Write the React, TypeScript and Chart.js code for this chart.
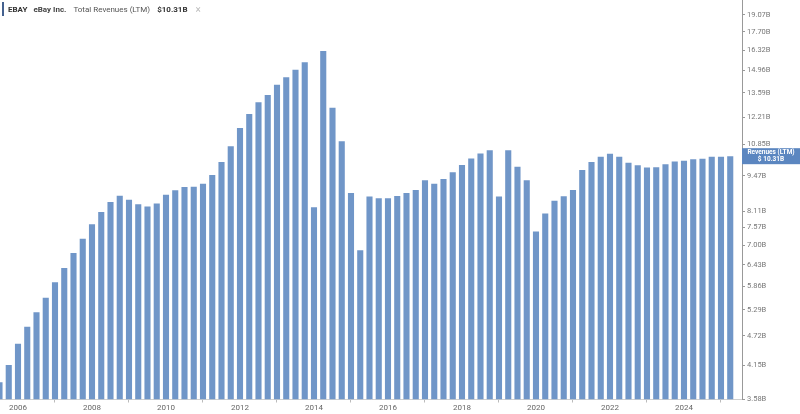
import React, { useEffect, useRef } from "react";
import { Chart, registerables } from "chart.js";

Chart.register(...registerables);

// Quarter-end positions (decimal years), Q2 2005 .. Q1 2025
const startYear = 2005.5;
const quarterCount = 80;
const quarterX: number[] = Array.from({ length: quarterCount }, (_, i) => startYear + i * 0.25);

// Total Revenues (LTM), billions USD
const revenues: number[] = [
  3.86, 4.16, 4.56, 4.91, 5.23, 5.57, 5.96, 6.34, 6.77, 7.2,
  7.67, 8.09, 8.45, 8.68, 8.53, 8.37, 8.28, 8.39, 8.72, 8.89,
  9.02, 9.03, 9.15, 9.5, 10.05, 10.77, 11.66, 12.39, 13.03, 13.45,
  14.07, 14.53, 15.02, 15.51, 8.26, 16.29, 12.73, 11.0, 8.79, 6.85,
  8.65, 8.59, 8.59, 8.67, 8.79, 8.9, 9.29, 9.15, 9.34, 9.61,
  9.92, 10.21, 10.43, 10.58, 8.65, 10.58, 9.85, 9.29, 7.43, 8.04,
  8.49, 8.66, 8.9, 9.71, 10.05, 10.29, 10.42, 10.28, 10.02, 9.91,
  9.81, 9.83, 9.95, 10.07, 10.11, 10.17, 10.2, 10.28, 10.29, 10.31,
];

const yTicks: number[] = [3.58, 4.15, 4.72, 5.29, 5.86, 6.43, 7.0, 7.57, 8.11, 9.47, 10.85, 12.21, 13.59, 14.96, 16.32, 17.7, 19.07];
const xTicks: number[] = [2006, 2008, 2010, 2012, 2014, 2016, 2018, 2020, 2022, 2024];

const seriesLabel = "Revenues (LTM)";
const lastValueText = "$ 10.31B";

const FONT = "Roboto, 'Noto Sans', sans-serif";

const lastLabelPlugin = {
  id: "lastLabel",
  afterDraw(chart: any) {
    const { ctx, scales, chartArea } = chart;
    const y = scales.y.getPixelForValue(revenues[revenues.length - 1]);
    const x0 = chartArea.right;
    const w = chart.width - x0;
    const h = 16;
    ctx.save();
    ctx.fillStyle = "#5b86c0";
    ctx.fillRect(x0, y - h / 2, w, h);
    ctx.fillStyle = "#ffffff";
    ctx.textAlign = "center";
    ctx.textBaseline = "middle";
    ctx.font = `bold 6.5px ${FONT}`;
    ctx.fillText(seriesLabel, x0 + w / 2, y - 3.5);
    ctx.fillText(lastValueText, x0 + w / 2, y + 3.5);
    ctx.restore();
  },
};

export default function App() {
  const ref = useRef<HTMLCanvasElement | null>(null);

  useEffect(() => {
    if (!ref.current) return;
    const chart = new Chart(ref.current, {
      type: "bar",
      data: {
        datasets: [
          {
            label: seriesLabel,
            data: quarterX.map((x, i) => ({ x, y: revenues[i] })),
            backgroundColor: "#7096c8",
            borderWidth: 0,
            barPercentage: 0.66,
            categoryPercentage: 1,
          },
        ],
      },
      options: {
        animation: false,
        responsive: true,
        maintainAspectRatio: false,
        layout: { padding: 0 },
        plugins: { legend: { display: false }, tooltip: { enabled: false }, title: { display: false } },
        scales: {
          x: {
            type: "linear",
            offset: false,
            min: 2005.5135,
            max: 2025.568,
            afterBuildTicks: (scale: any) => {
              scale.ticks = xTicks.map((v) => ({ value: v }));
            },
            afterFit: (scale: any) => {
              scale.height = 14.5;
              scale.paddingLeft = 0;
              scale.paddingRight = 0;
            },
            ticks: {
              autoSkip: false,
              maxRotation: 0,
              padding: 1,
              color: "#666666",
              font: { family: FONT, size: 8 },
              callback: (v: any) => String(v),
            },
            grid: { display: true, drawOnChartArea: false, drawTicks: true, tickLength: 3, color: "#bbbbbb" },
            border: { display: true, color: "#d0d0d0" },
          },
          y: {
            type: "logarithmic",
            position: "right",
            min: 3.58,
            max: 20.33,
            afterBuildTicks: (scale: any) => {
              scale.ticks = yTicks.map((v) => ({ value: v }));
            },
            afterFit: (scale: any) => {
              scale.width = 58;
              scale.paddingTop = 0;
              scale.paddingBottom = 0;
            },
            ticks: {
              autoSkip: false,
              padding: 2,
              color: "#777777",
              font: { family: FONT, size: 7.5 },
              callback: (v: any) => Number(v).toFixed(2) + "B",
            },
            grid: { display: true, drawOnChartArea: false, drawTicks: true, tickLength: 3, color: "#999999" },
            border: { display: true, color: "#999999" },
          },
        },
      },
      plugins: [lastLabelPlugin],
    });
    return () => chart.destroy();
  }, []);

  return (
    <div style={{ position: "fixed", left: 0, top: 0, width: 800, height: 414, background: "#fff" }}>
      <canvas ref={ref} />
      <div
        style={{
          position: "absolute",
          left: 0,
          top: 0,
          height: 18,
          display: "flex",
          alignItems: "center",
          fontFamily: FONT,
          fontSize: 8,
          color: "#333",
          whiteSpace: "nowrap",
          background: "rgba(255,255,255,0.9)",
          paddingRight: 6,
        }}
      >
        <span style={{ display: "inline-block", width: 2, height: 14, background: "#44618f", marginLeft: 2, marginRight: 4 }} />
        <span style={{ fontWeight: 700, marginRight: 6 }}>EBAY</span>
        <span style={{ fontWeight: 700, marginRight: 7, color: "#444" }}>eBay Inc.</span>
        <span style={{ marginRight: 7, color: "#555" }}>Total Revenues (LTM)</span>
        <span style={{ fontWeight: 700, marginRight: 8 }}>$10.31B</span>
        <span style={{ color: "#bbb", fontSize: 10 }}>×</span>
      </div>
    </div>
  );
}
